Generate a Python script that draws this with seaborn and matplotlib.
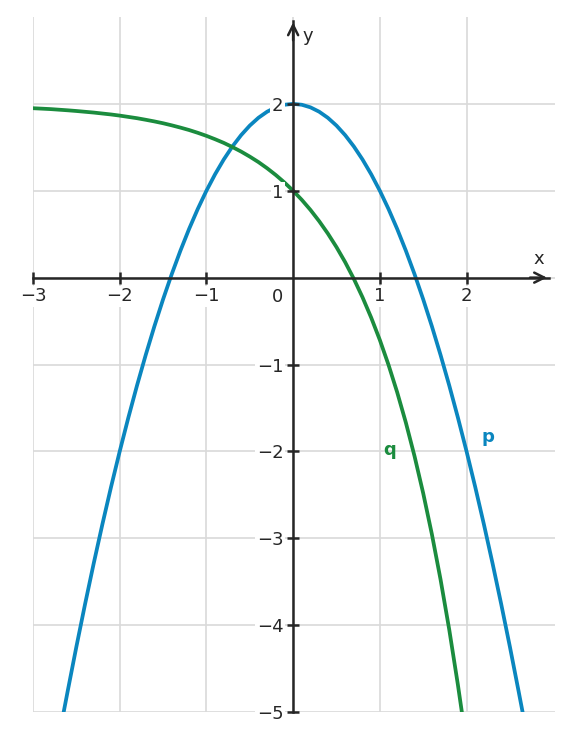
import seaborn as sns
import pandas as pd
import numpy as np
import matplotlib.pyplot as plt

# values
p_x = [-2.65, -2.6, -2.5, -2.4, -2.3, -2.2, -2.1, -2.0, -1.9, -1.8, -1.7, -1.6, -1.5, -1.4, -1.3,
       -1.2, -1.1, -1.0, -0.9, -0.8, -0.7, -0.6, -0.5, -0.4, -0.3, -0.2, -0.1, 0.0,
       0.1, 0.2, 0.3, 0.4, 0.5, 0.6, 0.7, 0.8, 0.9, 1.0, 1.1, 1.2, 1.3, 1.4, 1.5,
       1.6, 1.7, 1.8, 1.9, 2.0, 2.1, 2.2, 2.3, 2.4, 2.5, 2.6, 2.65]
p_y = [-5.02, -4.76, -4.25, -3.76, -3.29, -2.84, -2.41, -2.0, -1.61, -1.24, -0.89, -0.56, -0.25, 0.04, 0.31,
       0.56, 0.79, 1.0, 1.19, 1.36, 1.51, 1.64, 1.75, 1.84, 1.91, 1.96, 1.99, 2.0,
       1.99, 1.96, 1.91, 1.84, 1.75, 1.64, 1.51, 1.36, 1.19, 1.0, 0.79, 0.56, 0.31, 0.04, -0.25,
       -0.56, -0.89, -1.24, -1.61, -2.0, -2.41, -2.84, -3.29, -3.76, -4.25, -4.76, -5.02]
q_x = [-3.0, -2.9, -2.8, -2.7, -2.6, -2.5, -2.4, -2.3, -2.2, -2.1, -2.0, -1.9, -1.8, -1.7, -1.6,
       -1.5, -1.4, -1.3, -1.2, -1.1, -1.0, -0.9, -0.8, -0.7, -0.6, -0.5, -0.4, -0.3, -0.2, -0.1,
       0.0, 0.1, 0.2, 0.3, 0.4, 0.5, 0.6, 0.7, 0.8, 0.9, 1.0, 1.1, 1.2, 1.3, 1.4, 1.5,
       1.6, 1.7, 1.8, 1.9, 1.95]
q_y = [1.95, 1.945, 1.94, 1.933, 1.926, 1.918, 1.909, 1.90, 1.889, 1.878, 1.865, 1.85, 1.835, 1.817, 1.798,
       1.777, 1.753, 1.727, 1.699, 1.667, 1.632, 1.593, 1.551, 1.503, 1.451, 1.393, 1.33, 1.259, 1.181, 1.095,
       1.0, 0.895, 0.779, 0.65, 0.508, 0.351, 0.178, -0.014, -0.226, -0.46, -0.718, -1.004, -1.32, -1.669, -2.055, -2.482,
       -2.953, -3.474, -4.05, -4.686, -5.029]
x_ticks = [-3, -2, -1, 1, 2]
y_ticks = [-5, -4, -3, -2, -1, 1, 2]
grid_x = [-3, -2, -1, 0, 1, 2]
grid_y = [-5, -4, -3, -2, -1, 0, 1, 2]

blue = "#0a86bf"
green = "#1b8c3e"
axc = "#262626"

sns.set_theme(style="whitegrid")
plt.rcParams['font.family'] = ['DejaVu Sans']

fig = plt.figure(figsize=(5.72, 7.41), dpi=100)
ax = fig.add_axes([33/572, 29/741, 522/572, 695/741])

# grid
for gx in grid_x:
    ax.axvline(gx, color="#d9d9d9", lw=1.2, zorder=0)
for gy in grid_y:
    ax.axhline(gy, color="#d9d9d9", lw=1.2, zorder=0)
ax.grid(False)

sns.lineplot(x=p_x, y=p_y, ax=ax, color=blue, lw=2.7, sort=False, zorder=2)
sns.lineplot(x=q_x, y=q_y, ax=ax, color=green, lw=2.7, sort=False, zorder=2)

ax.set_xlim(-3, 3.02)
ax.set_ylim(-5, 3)
ax.set_axisbelow(False)

# axes through origin
ax.spines['left'].set_position(('data', 0))
ax.spines['bottom'].set_position(('data', 0))
ax.spines['right'].set_visible(False)
ax.spines['top'].set_visible(False)
ax.spines['left'].set_bounds(-5, 2.95)
ax.spines['bottom'].set_bounds(-3, 2.95)
for s in ['left', 'bottom']:
    ax.spines[s].set_color(axc)
    ax.spines[s].set_linewidth(1.8)
    ax.spines[s].set_zorder(4)

ax.set_xticks(x_ticks)
ax.set_yticks(y_ticks)
ax.set_xticklabels([str(t).replace('-', '\u2212') for t in x_ticks])
ax.set_yticklabels([str(t).replace('-', '\u2212') for t in y_ticks])
ax.tick_params(axis='both', bottom=True, left=True, direction='inout', length=8, width=1.8,
               color=axc, labelsize=13, labelcolor=axc, pad=3)
for lbl in ax.get_xticklabels() + ax.get_yticklabels():
    lbl.set_bbox(dict(facecolor='white', edgecolor='none', pad=1))

# arrow heads
ax.annotate('', xy=(2.96, 0), xytext=(2.7, 0),
            arrowprops=dict(arrowstyle='->', lw=1.8, color=axc, mutation_scale=18), zorder=5)
ax.annotate('', xy=(0, 2.97), xytext=(0, 2.7),
            arrowprops=dict(arrowstyle='->', lw=1.8, color=axc, mutation_scale=18), zorder=5)

ax.text(2.83, 0.22, "x", fontsize=13, color=axc, ha='center', va='center')
ax.text(0.17, 2.78, "y", fontsize=13, color=axc, ha='center', va='center')
ax.text(-0.18, -0.22, "0", fontsize=13, color=axc, ha='center', va='center')
ax.text(1.11, -1.98, "q", fontsize=13, color=green, fontweight='bold', ha='center', va='center')
ax.text(2.25, -1.83, "p", fontsize=13, color=blue, fontweight='bold', ha='center', va='center')

fig.savefig("out.png", dpi=100)
